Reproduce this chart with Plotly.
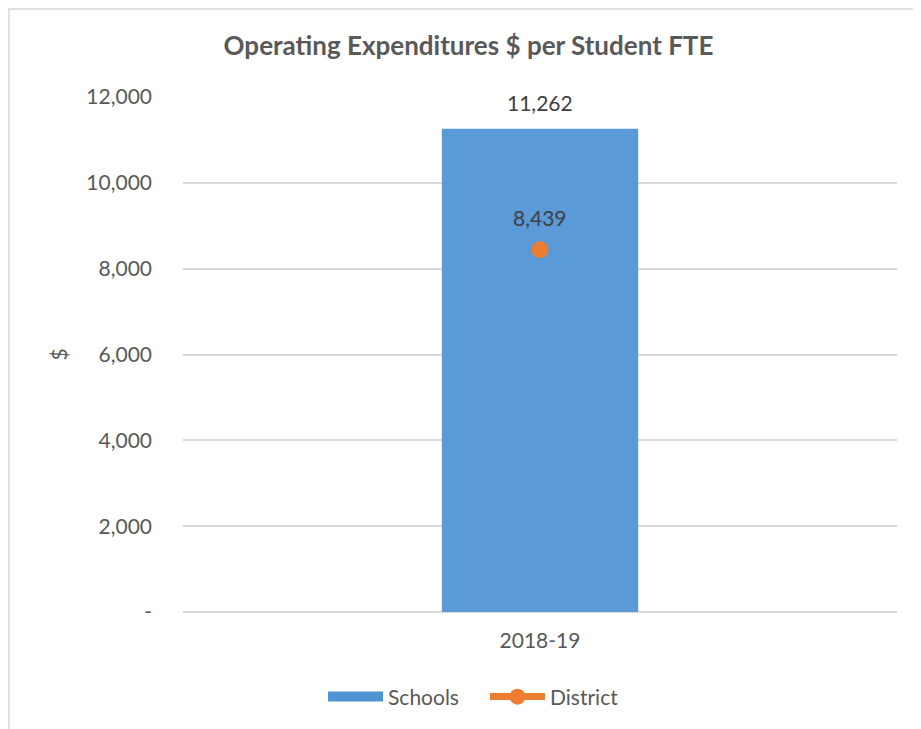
import plotly.graph_objects as go

# ── Data ───────────────────────────────────────────────────────────────────────
years    = ['2018-19']
schools  = [11262]
district = [8439]
y_ticks  = [0, 2000, 4000, 6000, 8000, 10000, 12000]
y_labels = ['-', '2,000', '4,000', '6,000', '8,000', '10,000', '12,000']

# ── Colors ─────────────────────────────────────────────────────────────────────
BAR_BLUE = '#5a9ad6'
ORANGE   = '#ed7d31'
TEXT     = '#595959'
LABEL    = '#404040'
GRID     = '#d9d9d9'
FONT     = 'Lato, Open Sans, sans-serif'

fig = go.Figure()
fig.add_trace(go.Bar(
    x=years, y=schools, name='Schools', showlegend=False,
    marker=dict(color=BAR_BLUE, line=dict(width=0)),
    width=0.275,
))
# legend entry for the bar, drawn as a wide block like Excel's
fig.add_trace(go.Scatter(
    x=[None], y=[None], name='Schools', mode='lines',
    line=dict(color='#4f93d2', width=14),
))
fig.add_trace(go.Scatter(
    x=years, y=district, name='District',
    mode='lines+markers',
    marker=dict(color=ORANGE, size=17),
    line=dict(color=ORANGE, width=7),
))

# data labels
for x, v, shift in [(years[0], schools[0], 26), (years[0], district[0], 32)]:
    fig.add_annotation(x=x, y=v, text=f'{v:,}', showarrow=False,
                       yanchor='middle', yshift=shift,
                       font=dict(size=21, color=LABEL, family=FONT))

# chart border (Excel-style frame, cut off at right and bottom)
fig.add_shape(type='rect', xref='paper', yref='paper',
              x0=-0.2437, x1=1.2, y0=-0.4, y1=1.1709,
              line=dict(color=GRID, width=1.5), layer='below')

fig.update_layout(
    width=921, height=729,
    paper_bgcolor='white', plot_bgcolor='white',
    font=dict(family=FONT, color=TEXT, size=21),
    margin=dict(t=89, b=125, l=175, r=32),
    title=dict(text='<b>Operating Expenditures $ per Student FTE</b>',
               x=0.5, xanchor='center', y=0.948, yanchor='middle',
               font=dict(size=26, color=TEXT, family=FONT)),
    showlegend=True,
    legend=dict(orientation='h', x=0.423, xanchor='center',
                y=-0.165, yanchor='middle',
                font=dict(size=21, color=TEXT, family=FONT),
                itemwidth=55, entrywidth=92),
    bargap=0.725,
)
fig.update_yaxes(range=[0, 12000], tickvals=y_ticks, ticktext=y_labels,
                 showgrid=True, gridcolor=GRID, gridwidth=1.5,
                 zeroline=True, zerolinecolor=GRID, zerolinewidth=1.5,
                 ticks='', ticklabelstandoff=30, automargin=False,
                 title=dict(text='$', standoff=12, font=dict(size=21, color=TEXT)))
fig.update_xaxes(showgrid=False, showline=False, ticks='', automargin=False,
                 ticklabelstandoff=14)

fig.write_html('out.html')
